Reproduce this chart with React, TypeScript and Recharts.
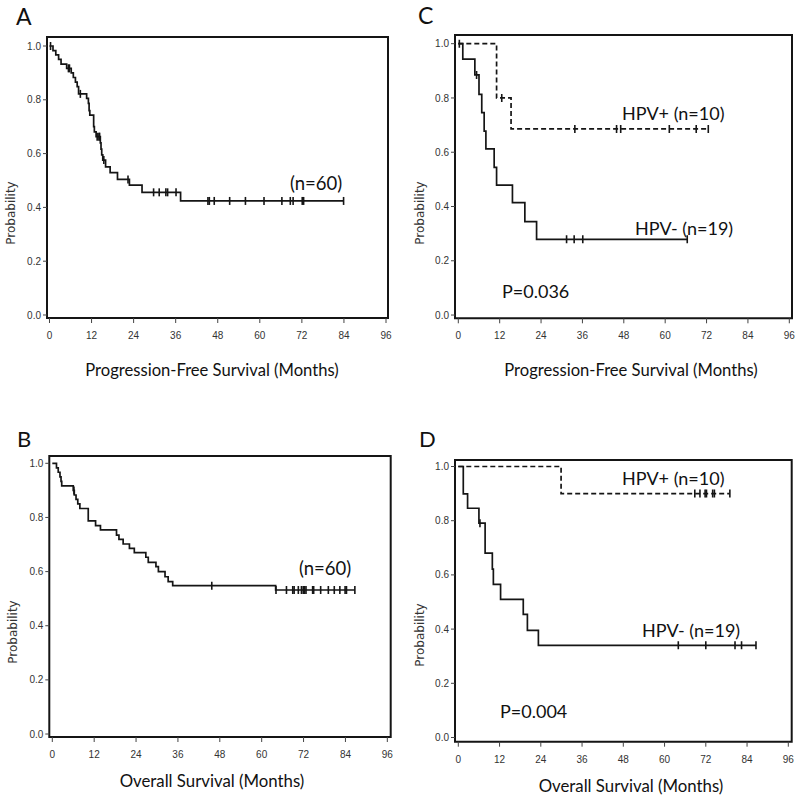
import React from 'react';
import { ComposedChart, Line, Scatter, XAxis, YAxis, ReferenceArea } from 'recharts';

// ---------- tick labels ----------
const monthTicks = [0, 12, 24, 36, 48, 60, 72, 84, 96];
const probTicks = [0, 0.2, 0.4, 0.6, 0.8, 1.0];

// ---------- Panel A: PFS, all patients (n=60) ----------
const pfsAllTimes = [0, 1.0, 1.8, 2.6, 3.3, 4.9, 6.2, 6.8, 7.4, 7.9, 8.3, 10.6, 11.1, 11.3, 11.5, 12.6, 12.8, 13.3, 14.5, 14.7, 14.9, 15.2, 16.0, 17.3, 19.4, 22.8, 26.4, 37.4, 83.9];
const pfsAllSurv = [1.0, 0.983, 0.967, 0.95, 0.933, 0.917, 0.9, 0.883, 0.866, 0.849, 0.822, 0.805, 0.787, 0.76, 0.743, 0.7, 0.681, 0.663, 0.64, 0.617, 0.595, 0.576, 0.551, 0.529, 0.504, 0.483, 0.456, 0.424, 0.424];
const pfsAllCensor = [0.3, 5.4, 5.7, 8.8, 13.6, 14.1, 14.3, 15.5, 22.4, 29.7, 31.3, 33.2, 33.7, 36.1, 45.2, 45.6, 47.0, 51.4, 55.9, 61.2, 66.3, 68.7, 69.5, 72.1, 72.5, 83.9];

// ---------- Panel B: OS, all patients (n=60) ----------
const osAllTimes = [0, 1.2, 1.7, 2.2, 2.5, 2.7, 6.0, 6.3, 6.8, 7.3, 7.9, 10.3, 12.4, 13.8, 18.4, 19.1, 20.3, 22.1, 23.5, 26.8, 27.5, 29.7, 30.4, 32.3, 33.2, 34.5, 64.0, 86.7];
const osAllSurv = [1.0, 0.983, 0.967, 0.95, 0.933, 0.917, 0.9, 0.883, 0.867, 0.85, 0.833, 0.787, 0.77, 0.754, 0.735, 0.719, 0.702, 0.686, 0.67, 0.653, 0.634, 0.618, 0.6, 0.581, 0.563, 0.548, 0.532, 0.532];
const osAllCensor = [6.2, 45.7, 64.1, 67.1, 68.9, 69.3, 70.5, 71.4, 71.9, 72.3, 72.7, 74.6, 74.9, 76.9, 79.1, 80.8, 82.4, 83.9, 84.3, 86.7];

// ---------- Panel C: PFS by HPV ----------
const pfsPosTimes = [0, 11.1, 15.3, 72.5];
const pfsPosSurv = [1.0, 0.8, 0.686, 0.686];
const pfsPosCensor = [0.3, 12.6, 33.8, 45.9, 47.1, 61.2, 69.0, 72.5];
const pfsNegTimes = [0, 1.3, 4.8, 6.0, 6.8, 7.5, 8.0, 10.4, 11.1, 15.7, 19.3, 22.7, 66.4];
const pfsNegSurv = [1.0, 0.943, 0.885, 0.813, 0.746, 0.678, 0.612, 0.544, 0.479, 0.414, 0.344, 0.279, 0.279];
const pfsNegCensor = [5.3, 31.4, 33.6, 36.1, 66.4];

// ---------- Panel D: OS by HPV ----------
const osPosTimes = [0, 29.9, 79.0];
const osPosSurv = [1.0, 0.9, 0.9];
const osPosCensor = [68.8, 70.3, 71.8, 72.2, 74.0, 74.5, 79.0];
const osNegTimes = [0, 1.45, 2.7, 6.0, 7.8, 9.9, 10.2, 12.3, 18.9, 20.1, 23.3, 86.6];
const osNegSurv = [1.0, 0.899, 0.846, 0.791, 0.68, 0.621, 0.565, 0.51, 0.454, 0.395, 0.34, 0.34];
const osNegCensor = [6.3, 64.0, 72.0, 80.5, 82.4, 86.6];

type Series = { times: number[]; surv: number[]; censors: number[]; dashed?: boolean };

const stepValue = (times: number[], surv: number[], t: number) => {
  let v = surv[0];
  for (let i = 0; i < times.length; i++) if (times[i] <= t) v = surv[i];
  return v;
};

const INK = '#151515';
const TICK_STYLE = { fontSize: 10, fontFamily: "'Liberation Sans Narrow', 'Liberation Sans', sans-serif", fill: '#333' };

const CensorMark = (props: any) => {
  const { cx, cy } = props;
  if (cx == null || cy == null) return null;
  return <line x1={cx} x2={cx} y1={cy - 4} y2={cy + 4} stroke={INK} strokeWidth={1.6} />;
};

type PanelProps = {
  left: number; top: number; width: number; height: number;
  margin: { top: number; right: number; bottom: number; left: number };
  xDomain: [number, number]; yDomain: [number, number];
  series: Series[];
};

const Panel = ({ left, top, width, height, margin, xDomain, yDomain, series }: PanelProps) => (
  <div style={{ position: 'absolute', left, top, width, height }}>
    <ComposedChart width={width} height={height} margin={margin}>
      <XAxis
        dataKey="t" type="number" domain={xDomain} ticks={monthTicks} allowDataOverflow
        axisLine={false} tickLine={{ stroke: '#444' }} tickSize={5} tickMargin={9} height={30}
        tick={TICK_STYLE} interval={0}
      />
      <YAxis
        type="number" domain={yDomain} ticks={probTicks} allowDataOverflow
        axisLine={false} tickLine={{ stroke: '#444' }} tickSize={4} tickMargin={2} width={40}
        tick={TICK_STYLE} tickFormatter={(v: number) => v.toFixed(1)} interval={0}
      />
      <ReferenceArea x1={xDomain[0]} x2={xDomain[1]} y1={yDomain[0]} y2={yDomain[1]}
        fill="none" fillOpacity={0} stroke={INK} strokeWidth={2} ifOverflow="visible" />
      {series.map((s, i) => (
        <Line
          key={'l' + i}
          data={s.times.map((t, j) => ({ t, s: s.surv[j] }))}
          dataKey="s" type="stepAfter" stroke={INK} strokeWidth={1.7}
          strokeDasharray={s.dashed ? '5 3' : undefined}
          dot={false} activeDot={false} isAnimationActive={false} legendType="none"
        />
      ))}
      {series.map((s, i) => (
        <Scatter
          key={'c' + i}
          data={s.censors.map((t) => ({ t, s: stepValue(s.times, s.surv, t) }))}
          dataKey="s" shape={CensorMark} isAnimationActive={false} legendType="none"
        />
      ))}
    </ComposedChart>
  </div>
);

const FONT = "Lato, 'Open Sans', sans-serif";

export default function App() {
  return (
    <div style={{ position: 'absolute', left: 0, top: 0, width: 800, height: 802, background: '#fff', overflow: 'hidden' }}>
      <Panel left={0} top={0} width={400} height={400}
        margin={{ top: 37, right: 12, bottom: 52, left: 7 }}
        xDomain={[-0.71, 96.57]} yDomain={[-0.0112, 1.0335]}
        series={[{ times: pfsAllTimes, surv: pfsAllSurv, censors: pfsAllCensor }]} />
      <Panel left={400} top={0} width={400} height={400}
        margin={{ top: 35, right: 8, bottom: 51.7, left: 15 }}
        xDomain={[-0.96, 96.78]} yDomain={[-0.012, 1.032]}
        series={[
          { times: pfsPosTimes, surv: pfsPosSurv, censors: pfsPosCensor, dashed: true },
          { times: pfsNegTimes, surv: pfsNegSurv, censors: pfsNegCensor },
        ]} />
      <Panel left={0} top={400} width={400} height={400}
        margin={{ top: 56, right: 9.3, bottom: 33, left: 9.3 }}
        xDomain={[-0.86, 96.97]} yDomain={[-0.011, 1.027]}
        series={[{ times: osAllTimes, surv: osAllSurv, censors: osAllCensor }]} />
      <Panel left={400} top={400} width={400} height={400}
        margin={{ top: 60, right: 8.3, bottom: 28.3, left: 15 }}
        xDomain={[-0.96, 96.99]} yDomain={[-0.0155, 1.024]}
        series={[
          { times: osPosTimes, surv: osPosSurv, censors: osPosCensor, dashed: true },
          { times: osNegTimes, surv: osNegSurv, censors: osNegCensor },
        ]} />
      <svg width={800} height={802} style={{ position: 'absolute', left: 0, top: 0, pointerEvents: 'none' }}>
        <g fontFamily={FONT} fill="#111">
          <text x={16} y={24.5} fontSize={23}>A</text>
          <text x={418} y={23.5} fontSize={23}>C</text>
          <text x={17} y={447} fontSize={22}>B</text>
          <text x={419} y={447} fontSize={22}>D</text>

          <text x={212} y={376} fontSize={16.6} textAnchor="middle">Progression-Free Survival (Months)</text>
          <text x={631} y={376} fontSize={16.6} textAnchor="middle">Progression-Free Survival (Months)</text>
          <text x={212} y={787} fontSize={16.8} textAnchor="middle">Overall Survival (Months)</text>
          <text x={631} y={792} fontSize={16.8} textAnchor="middle">Overall Survival (Months)</text>

          <text x={290} y={190} fontSize={18.5}>(n=60)</text>
          <text x={299} y={575} fontSize={18.5}>(n=60)</text>
          <text x={622} y={120} fontSize={18}>HPV+ (n=10)</text>
          <text x={635} y={235} fontSize={18}>HPV- (n=19)</text>
          <text x={502} y={298} fontSize={18}>P=0.036</text>
          <text x={622} y={485} fontSize={18}>HPV+ (n=10)</text>
          <text x={642} y={637} fontSize={18}>HPV- (n=19)</text>
          <text x={500} y={718} fontSize={18}>P=0.004</text>
        </g>
        <g fontFamily="'DejaVu Sans', sans-serif" fontSize={12} fill="#333" textAnchor="middle">
          <text transform="translate(15,213) rotate(-90)">Probability</text>
          <text transform="translate(424,213) rotate(-90)">Probability</text>
          <text transform="translate(17,632) rotate(-90)">Probability</text>
          <text transform="translate(424,635) rotate(-90)">Probability</text>
        </g>
      </svg>
    </div>
  );
}
